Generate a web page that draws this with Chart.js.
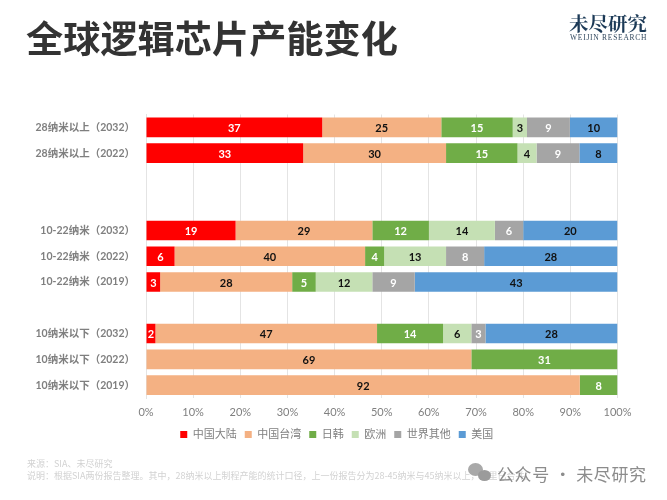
<!DOCTYPE html>
<html>
<head>
<meta charset="utf-8">
<script src="https://cdn.jsdelivr.net/npm/chart.js@4"></script>
<style>
  html, body { margin: 0; padding: 0; background: #fff; overflow: hidden; }
  #wrap { position: relative; width: 667px; height: 500px; font-family: "Noto Sans CJK SC", sans-serif; }
  #wrap div { position: absolute; white-space: nowrap; }
  #title { left: 26px; top: 10px; font-size: 37.2px; line-height: 54px; font-weight: 700; color: #333; }
  #logo { left: 569px; top: 8px; font-size: 19.5px; line-height: 30px; font-weight: 700; color: #1c3a57; font-family: "Noto Serif CJK SC", "Noto Sans CJK SC", serif; }
  #logo2 { left: 570px; top: 33px; font-size: 7.5px; line-height: 10px; color: #33495f; font-family: "Liberation Serif", serif; letter-spacing: 0.75px; }
  #src { left: 27px; top: 458px; font-size: 9px; line-height: 12px; color: #d2d2d2; }
  #wm { left: 497px; top: 461px; font-size: 17px; line-height: 26px; color: #8c8c8c; letter-spacing: 0.6px; }
  .dot { border-radius: 50%; background: #a9a9a9; }
</style>
</head>
<body>
<div id="wrap">
  <canvas id="myChart" width="667" height="500"></canvas>
  <div id="title">全球逻辑芯片产能变化</div>
  <div id="logo">未尽研究</div>
  <div id="logo2">WEIJIN RESEARCH</div>
  <div id="src">来源：SIA、未尽研究<br>说明：根据SIA两份报告整理。其中，28纳米以上制程产能的统计口径，上一份报告分为28-45纳米与45纳米以上，这里已合并。</div>
  <div class="dot" style="left:468px;top:463px;width:15px;height:13px"></div>
  <div class="dot" style="left:478px;top:470px;width:13px;height:11px;background:#9b9b9b"></div>
  <div id="wm">公众号 · 未尽研究</div>
</div>
<script>
const categories = ['28纳米以上（2032）', '28纳米以上（2022）', '', '',
  '10-22纳米（2032）', '10-22纳米（2022）', '10-22纳米（2019）', '',
  '10纳米以下（2032）', '10纳米以下（2022）', '10纳米以下（2019）'];

const mainland = [37, 33, 0, 0, 19, 6, 3, 0, 2, 0, 0];
const taiwan = [25, 30, 0, 0, 29, 40, 28, 0, 47, 69, 92];
const korea = [15, 15, 0, 0, 12, 4, 5, 0, 14, 31, 8];
const europe = [3, 4, 0, 0, 14, 13, 12, 0, 6, 0, 0];
const others = [9, 9, 0, 0, 6, 8, 9, 0, 3, 0, 0];
const usa = [10, 8, 0, 0, 20, 28, 43, 0, 28, 0, 0];

const xTicks = [0, 10, 20, 30, 40, 50, 60, 70, 80, 90, 100];
const labelFont = 'Lato, "Noto Sans CJK SC", sans-serif';

const series = [
  { label: '中国大陆', values: mainland, color: '#ff0000', text: '#fff' },
  { label: '中国台湾', values: taiwan, color: '#f4b183', text: '#111' },
  { label: '日韩', values: korea, color: '#70ad47', text: '#fff' },
  { label: '欧洲', values: europe, color: '#c5e0b4', text: '#111' },
  { label: '世界其他', values: others, color: '#a5a5a5', text: '#fff' },
  { label: '美国', values: usa, color: '#5b9bd5', text: '#111' }
];

// rows add up to 99 or 100 after rounding, the bars are always stretched to 100%
function share(values, i) {
  let total = 0;
  series.forEach(s => { total += s.values[i]; });
  return total ? values[i] / total * 100 : 0;
}

const barLabels = {
  id: 'barLabels',
  afterLayout(chart) {
    // legend is centred a bit right of the plot in the reference
    chart.legend.left += 28;
    chart.legend.right += 28;
  },
  afterDatasetsDraw(chart) {
    const c = chart.ctx;
    c.save();
    c.font = 'bold 11px ' + labelFont;
    c.textAlign = 'center';
    c.textBaseline = 'middle';
    chart.data.datasets.forEach((ds, d) => {
      chart.getDatasetMeta(d).data.forEach((bar, i) => {
        const v = series[d].values[i];
        if (!v) return;
        c.fillStyle = series[d].text;
        c.fillText(v, (bar.x + bar.base) / 2, bar.y + 1);
      });
    });
    c.restore();
  }
};

new Chart(document.getElementById('myChart'), {
  type: 'bar',
  data: {
    labels: categories,
    datasets: series.map(s => ({
      label: s.label,
      data: s.values.map((v, i) => share(s.values, i)),
      backgroundColor: s.color,
      categoryPercentage: 1,
      barPercentage: 0.76
    }))
  },
  options: {
    indexAxis: 'y',
    responsive: false,
    animation: false,
    layout: { padding: { top: 114.5, right: 49.5, bottom: 50, left: 0 } },
    scales: {
      x: {
        stacked: true,
        min: 0,
        max: 100,
        afterFit(axis) { axis.height = 23; },
        afterBuildTicks(axis) { axis.ticks = xTicks.map(v => ({ value: v })); },
        grid: { color: '#e4e4e4', drawTicks: false },
        border: { display: false },
        ticks: {
          padding: 8,
          color: '#7f7f7f',
          font: { family: labelFont, size: 11 },
          maxRotation: 0,
          callback: v => v + '%'
        }
      },
      y: {
        stacked: true,
        afterFit(axis) { axis.width = 146; },
        grid: { display: false, drawTicks: false },
        border: { color: '#e4e4e4' },
        ticks: {
          autoSkip: false,
          padding: 11,
          color: '#7f7f7f',
          font: { family: labelFont, size: 10.5, weight: 'bold' }
        }
      }
    },
    plugins: {
      legend: {
        position: 'bottom',
        labels: {
          boxWidth: 7,
          boxHeight: 7,
          padding: 8,
          color: '#7f7f7f',
          font: { family: labelFont, size: 11 }
        }
      },
      tooltip: { enabled: false }
    }
  },
  plugins: [barLabels]
});
</script>
</body>
</html>
